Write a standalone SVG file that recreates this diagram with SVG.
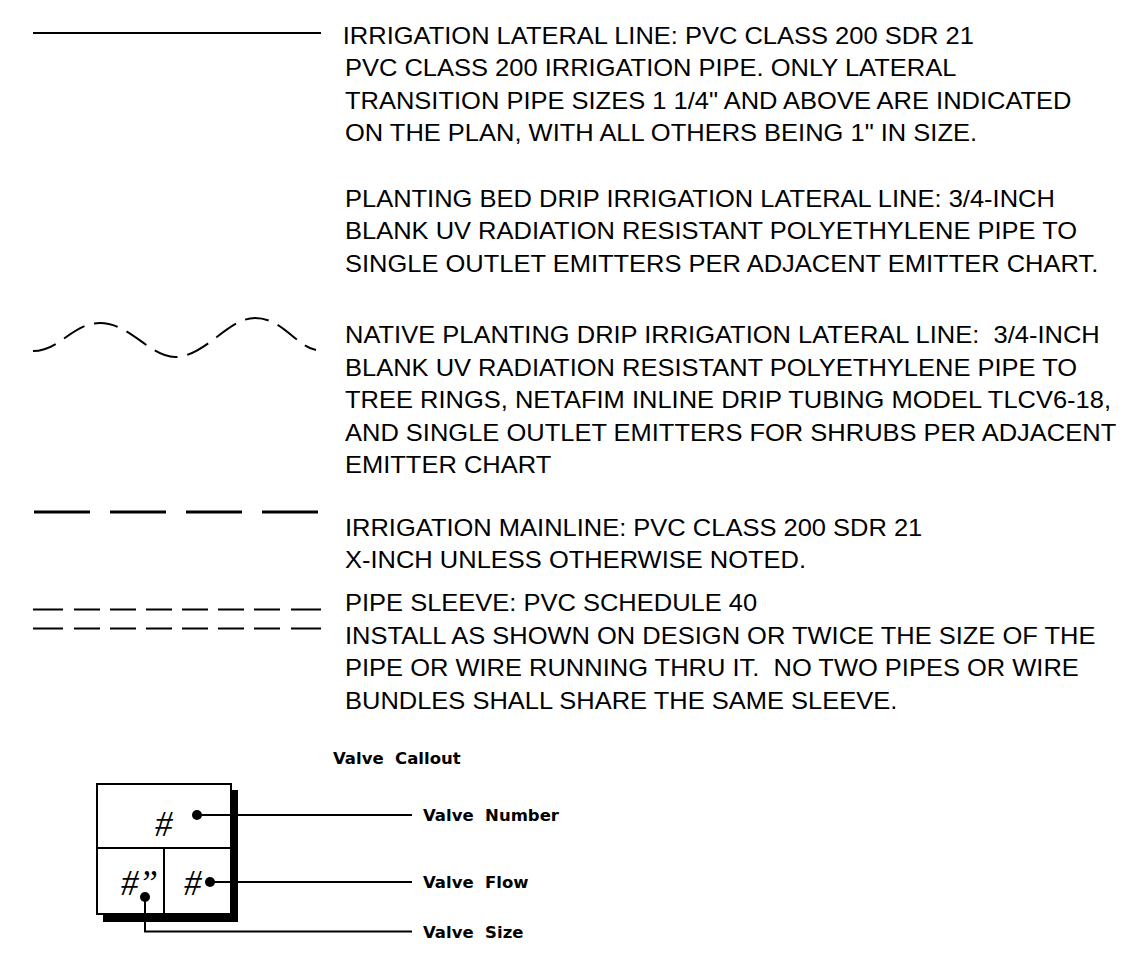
<svg xmlns="http://www.w3.org/2000/svg" width="1142" height="968" viewBox="0 0 1142 968">
<style>
.t{font-family:"Liberation Sans",Arial,sans-serif;font-size:23px;fill:#000}
.v{font-family:"DejaVu Sans",sans-serif;font-size:16.5px;font-weight:bold;fill:#000}
.h{font-family:"Liberation Serif",serif;font-style:italic;font-size:35px;fill:#000}
.ln{fill:none;stroke:#000;stroke-width:2}
</style>
<rect width="1142" height="968" fill="#fff"/>
<g id="lateral">
<line class="ln" x1="33" y1="33" x2="321" y2="33"/>
<text class="t" transform="matrix(1.1087,0,0,1,-37.5,0)" xml:space="preserve"><tspan x="343" y="44">IRRIGATION LATERAL LINE: PVC CLASS 200 SDR 21</tspan><tspan x="345" y="76.5">PVC CLASS 200 IRRIGATION PIPE. ONLY LATERAL</tspan><tspan x="345" y="109">TRANSITION PIPE SIZES 1 1/4" AND ABOVE ARE INDICATED</tspan><tspan x="345" y="141.5">ON THE PLAN, WITH ALL OTHERS BEING 1" IN SIZE.</tspan></text>
</g>
<g id="bed-drip">
<text class="t" transform="matrix(1.1087,0,0,1,-37.5,0)" xml:space="preserve"><tspan x="345" y="207">PLANTING BED DRIP IRRIGATION LATERAL LINE: 3/4-INCH</tspan><tspan x="345" y="239.5">BLANK UV RADIATION RESISTANT POLYETHYLENE PIPE TO</tspan><tspan x="345" y="272">SINGLE OUTLET EMITTERS PER ADJACENT EMITTER CHART.</tspan></text>
</g>
<g id="native-drip">
<path class="ln" stroke-dasharray="24 10" d="M33,351 C60,351 72,323 100,323 C130,323 150,357 175,357 C205,357 228,318 255,318 C282,318 296,346 316,350"/>
<text class="t" transform="matrix(1.1087,0,0,1,-37.5,0)" xml:space="preserve"><tspan x="345" y="343.5">NATIVE PLANTING DRIP IRRIGATION LATERAL LINE:  3/4-INCH</tspan><tspan x="345" y="376">BLANK UV RADIATION RESISTANT POLYETHYLENE PIPE TO</tspan><tspan x="345" y="408.5">TREE RINGS, NETAFIM INLINE DRIP TUBING MODEL TLCV6-18,</tspan><tspan x="345" y="441">AND SINGLE OUTLET EMITTERS FOR SHRUBS PER ADJACENT</tspan><tspan x="345" y="473.5">EMITTER CHART</tspan></text>
</g>
<g id="mainline">
<line x1="34" y1="512" x2="320" y2="512" stroke="#000" stroke-width="3" stroke-dasharray="56 20"/>
<text class="t" transform="matrix(1.1087,0,0,1,-37.5,0)" xml:space="preserve"><tspan x="345" y="536">IRRIGATION MAINLINE: PVC CLASS 200 SDR 21</tspan><tspan x="345" y="568.5">X-INCH UNLESS OTHERWISE NOTED.</tspan></text>
</g>
<g id="sleeve">
<path class="ln" d="M33,609.5H63M74,609.5H100M110,609.5H136M146,609.5H172M182,609.5H208M218,609.5H244M254,609.5H280M291,609.5H321M33,628.5H63M74,628.5H100M110,628.5H136M146,628.5H172M182,628.5H208M218,628.5H244M254,628.5H280M291,628.5H321"/>
<text class="t" transform="matrix(1.1087,0,0,1,-37.5,0)" xml:space="preserve"><tspan x="345" y="611">PIPE SLEEVE: PVC SCHEDULE 40</tspan><tspan x="345" y="644">INSTALL AS SHOWN ON DESIGN OR TWICE THE SIZE OF THE</tspan><tspan x="345" y="676.5">PIPE OR WIRE RUNNING THRU IT.  NO TWO PIPES OR WIRE</tspan><tspan x="345" y="709">BUNDLES SHALL SHARE THE SAME SLEEVE.</tspan></text>
</g>
<g id="valve-callout">
<text class="v" x="333" y="764" xml:space="preserve">Valve  Callout</text>
<polygon points="231,790 238,790 238,922 103,922 103,914 231,914" fill="#000"/>
<rect class="ln" x="97" y="784" width="134" height="130" fill="#fff"/>
<line class="ln" x1="97" y1="848" x2="231" y2="848"/>
<line class="ln" x1="164" y1="848" x2="164" y2="914"/>
<text class="h" x="155" y="836">#</text>
<text class="h" x="121" y="895">#”</text>
<text class="h" x="184" y="895">#</text>
</g>
<g id="connectors">
<circle cx="197" cy="815" r="5"/>
<circle cx="210" cy="882" r="5"/>
<circle cx="145" cy="897" r="5"/>
<path class="ln" d="M197,815H412M210,882H412M145,897V931.5H412"/>
</g>
<g id="valve-labels">
<text class="v" x="423" y="821" xml:space="preserve">Valve  Number</text>
<text class="v" x="423" y="888" xml:space="preserve">Valve  Flow</text>
<text class="v" x="423" y="938" xml:space="preserve">Valve  Size</text>
</g>
</svg>
